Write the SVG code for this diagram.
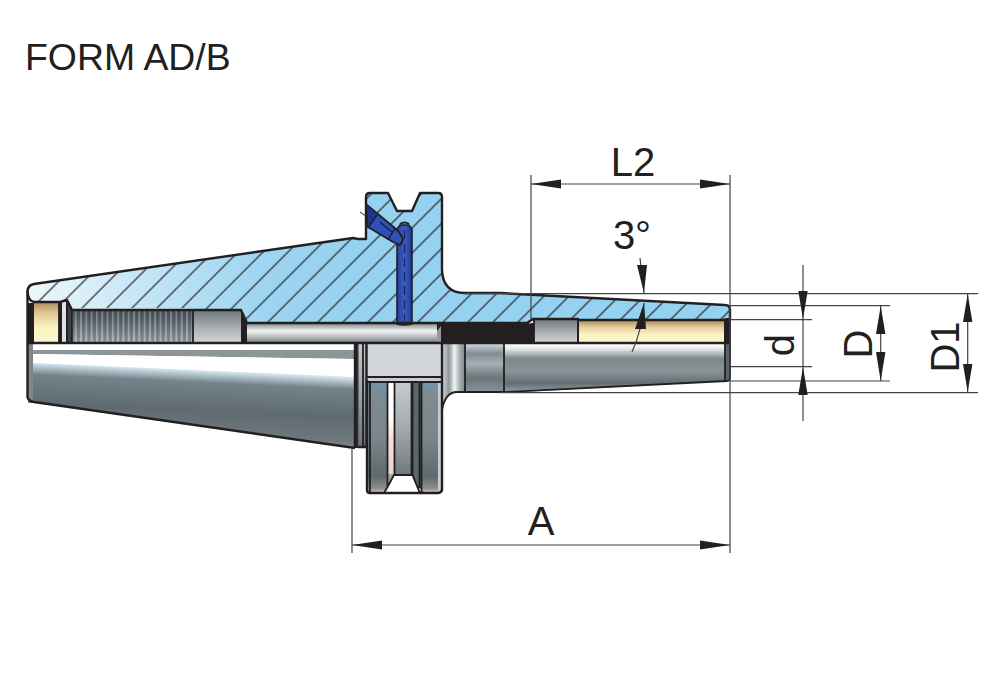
<svg xmlns="http://www.w3.org/2000/svg" width="1000" height="694" viewBox="0 0 1000 694">
<style>
.o{stroke:#231f20;stroke-width:2.4;fill:none;stroke-linejoin:round}
.t{stroke:#231f20;stroke-width:1.8;fill:none}
.d{stroke:#444;stroke-width:1.2;fill:none}
.a{fill:#231f20;stroke:none}
text{font-family:"Liberation Sans",Arial,sans-serif;fill:#231f20}
.b{font-size:40px}
</style>
<defs>
<linearGradient id="body" gradientUnits="userSpaceOnUse" x1="27" y1="0" x2="360" y2="0"><stop offset="0" stop-color="#eef8fc"/><stop offset=".35" stop-color="#c4e6f6"/><stop offset=".7" stop-color="#9ed5f1"/><stop offset="1" stop-color="#95d1f0"/></linearGradient>
<linearGradient id="brass" x1="0" y1="0" x2="0" y2="1"><stop offset="0" stop-color="#b2925f"/><stop offset=".25" stop-color="#e0c796"/><stop offset=".6" stop-color="#faf3c0"/><stop offset="1" stop-color="#fbf7d2"/></linearGradient>
<linearGradient id="gr" x1="0" y1="0" x2="0" y2="1"><stop offset="0" stop-color="#6d777b"/><stop offset=".5" stop-color="#a5abae"/><stop offset="1" stop-color="#d4d6d9"/></linearGradient>
<linearGradient id="bore" x1="0" y1="0" x2="0" y2="1"><stop offset="0" stop-color="#7b8488"/><stop offset=".4" stop-color="#f2f3f3"/><stop offset=".7" stop-color="#b6babc"/><stop offset="1" stop-color="#70797d"/></linearGradient>
<linearGradient id="nose" x1="0" y1="0" x2="0" y2="1"><stop offset="0" stop-color="#ffffff"/><stop offset=".1" stop-color="#e4e7e8"/><stop offset=".3" stop-color="#7b878c"/><stop offset=".55" stop-color="#8a9498"/><stop offset=".8" stop-color="#636e72"/><stop offset="1" stop-color="#9aa2a6"/></linearGradient>
<linearGradient id="collar" x1="0" y1="0" x2="0" y2="1"><stop offset="0" stop-color="#cfd8dc"/><stop offset=".2" stop-color="#7f8d93"/><stop offset=".4" stop-color="#a6b0b4"/><stop offset=".7" stop-color="#6a7579"/><stop offset="1" stop-color="#8b9498"/></linearGradient>
<linearGradient id="cone" gradientUnits="userSpaceOnUse" x1="190" y1="366" x2="186.300" y2="445"><stop offset="0" stop-color="#ffffff"/><stop offset=".07" stop-color="#c9dbe4"/><stop offset=".2" stop-color="#74838a"/><stop offset=".55" stop-color="#5f6b70"/><stop offset=".85" stop-color="#6d787d"/><stop offset="1" stop-color="#8d969a"/></linearGradient>
<linearGradient id="ringg" x1="0" y1="0" x2="0" y2="1"><stop offset="0" stop-color="#6f96ad"/><stop offset=".1" stop-color="#7e8b90"/><stop offset=".5" stop-color="#7a868b"/><stop offset=".85" stop-color="#5e696d"/><stop offset=".96" stop-color="#8d8f92"/><stop offset="1" stop-color="#e2cfcf"/></linearGradient>
<linearGradient id="mid" x1="0" y1="0" x2="0" y2="1"><stop offset="0" stop-color="#c9cccf"/><stop offset=".5" stop-color="#a3a9ac"/><stop offset="1" stop-color="#6f7a7e"/></linearGradient>
<linearGradient id="strip" x1="0" y1="0" x2="0" y2="1"><stop offset="0" stop-color="#c4cace"/><stop offset=".5" stop-color="#98a2a6"/><stop offset="1" stop-color="#6c777b"/></linearGradient>
<linearGradient id="gap" x1="0" y1="0" x2="0" y2="1"><stop offset="0" stop-color="#fff"/><stop offset=".4" stop-color="#fff"/><stop offset=".6" stop-color="#f6dede"/><stop offset="1" stop-color="#e8d4d4"/></linearGradient>
<linearGradient id="fil" x1="0" y1="0" x2="1" y2="0"><stop offset="0" stop-color="#d4d9db"/><stop offset=".3" stop-color="#8e989c"/><stop offset=".55" stop-color="#f4f5f5"/><stop offset=".75" stop-color="#aab2b6"/><stop offset="1" stop-color="#7c878c"/></linearGradient>
<linearGradient id="pin" x1="0" y1="0" x2="1" y2="0"><stop offset="0" stop-color="#24409c"/><stop offset=".5" stop-color="#3c5cc4"/><stop offset="1" stop-color="#1f3a90"/></linearGradient>
<pattern id="hatch" patternUnits="userSpaceOnUse" width="17.680" height="17.680" patternTransform="rotate(45) translate(9.600 0)"><line x1="1" y1="0" x2="1" y2="17.680" stroke="#231f20" stroke-width="1.200"/></pattern>
<pattern id="thr" patternUnits="userSpaceOnUse" width="5.300" height="40" x="73"><rect width="5.300" height="40" fill="#55626a"/><rect x="1.700" width="2" height="40" fill="#97a5ac"/></pattern>
<linearGradient id="thrf" x1="0" y1="0" x2="0" y2="1"><stop offset="0" stop-color="#000" stop-opacity=".25"/><stop offset="1" stop-color="#fff" stop-opacity=".3"/></linearGradient>
<path id="sec" d="M27.500,291 Q28,285 34,284 L353,238 L358,239 H366 V197 Q366,193 370,193 H388 L397,211 H412 L420,193 H438 Q442,193 442,197 V270 Q443,293 465,293 H500 L725,305 Q730,305 730,310 V320 H578 V319 H533 L527,323 H441 H247 L241,310 H72 L67,300 L60,302 H34 Q28,301 27.500,291Z"/>
</defs>
<g id="title"><text x="25" y="70" font-size="37.400">FORM AD/B</text></g>
<g id="holder">
<use href="#sec" fill="url(#body)"/>
<use href="#sec" fill="url(#hatch)"/>
<rect x="27.500" y="303" width="6.500" height="40" fill="#231f20"/>
<rect x="34" y="303" width="25" height="40" fill="url(#brass)"/>
<rect x="59" y="302" width="3" height="41" fill="#231f20"/>
<rect x="62" y="301" width="4" height="42" fill="#dfe3e5"/>
<path d="M66,300 H67 L72,308 V343 H66Z" fill="#39444a"/>
<rect x="73" y="308" width="120" height="3" fill="#d6e6ec"/>
<rect x="73" y="311" width="120" height="32" fill="url(#thr)"/>
<rect x="73" y="311" width="120" height="32" fill="url(#thrf)"/>
<rect x="193" y="310" width="49" height="33" fill="url(#gr)"/>
<path d="M241,310 L247,323 V343 H241Z" fill="#231f20"/>
<rect x="247" y="323" width="193" height="20" fill="url(#bore)"/>
<rect x="437" y="323" width="97" height="20" fill="#231f20"/>
<path d="M441,323 H531" stroke="#fff" stroke-width="1" stroke-dasharray="1.500 2.500" fill="none"/>
<path d="M437,331 L441,326 V343 H437Z" fill="#8f989c"/>
<rect x="534" y="319" width="43" height="24" fill="url(#gr)"/>
<rect x="577" y="319" width="2" height="24" fill="#231f20"/>
<rect x="579" y="321" width="145" height="22" fill="url(#brass)"/>
<rect x="724" y="318" width="6" height="25" fill="#231f20"/>
<path d="M724,320 L730,312" stroke="#9ad2f0" stroke-width="1"/>
<path d="M27.500,343 H355 V448 L34,402 Q28,401 27.500,397Z" fill="url(#cone)"/>
<path d="M33,344 H355 V352 L33,350Z" fill="#ffffff"/>
<path d="M33,350 L355,350 V359 L33,354Z" fill="#8e9598"/>
<path d="M33,354 L355,359 V377 L33,363Z" fill="#ffffff"/>
<rect x="28" y="344" width="5" height="59" fill="#7b878c"/>
<rect x="355" y="344" width="3" height="104" fill="#231f20"/>
<rect x="358" y="344" width="5" height="103" fill="url(#strip)"/>
<rect x="363" y="344" width="3" height="103" fill="url(#strip)"/>
<rect x="367" y="344" width="75" height="33" fill="#d3d6da"/>
<rect x="368" y="377" width="74" height="6" fill="#c8ccce"/>
<rect x="388" y="382" width="6" height="92" fill="url(#gap)"/>
<path d="M388,474 H394 L388,487Z" fill="#a0a6a8"/>
<path d="M368,383 H388 V487 L384,493 H370 Q368,493 368,490Z" fill="url(#ringg)"/>
<rect x="395" y="382" width="16" height="93" fill="url(#mid)"/>
<path d="M412,383 H419 V492 L412,475Z" fill="#59666a"/>
<path d="M419,383 H442 V490 Q441,493 438,493 H424 L419,488Z" fill="url(#ringg)"/>
<rect x="438" y="383" width="3.500" height="108" fill="#c5cccf"/>
<path d="M442,344 H465 V392 H456 Q445,393 442,410Z" fill="url(#fil)"/>
<rect x="465" y="344" width="39" height="48.500" fill="url(#collar)"/>
<path d="M504,344 H727 V381 L504,393Z" fill="url(#nose)"/>
<rect x="725" y="344" width="5" height="37" fill="#59646a"/>
<g id="pin-1"><path d="M397,324 V229 L400,225 H409 L412,229 V324 Q404,326 397,324Z" fill="url(#pin)" stroke="#231f20" stroke-width="1.600"/>
<path d="M400,224 Q404.500,221 409,224" stroke="#231f20" stroke-width="2" fill="none"/>
<path d="M404.500,230V322" stroke="#16285f" stroke-width="1.300" stroke-dasharray="9 5"/></g>
<g id="pin-2"><path d="M367,205 L396,229 Q402,235 403,240 L400,245 L393,242 L368,227Z" fill="#2f50b8" stroke="#231f20" stroke-width="1.800" stroke-linejoin="round"/>
<path d="M367,205 L377,215 L368,228 Z" fill="#1e3486"/>
<path d="M377,215 L368,228 M395,228 L388,240" stroke="#231f20" stroke-width="1.400"/>
<path d="M380,222 L393,233" stroke="#14224f" stroke-width="1.400"/>
<path d="M360,212 L367,217" stroke="#231f20" stroke-width="1"/></g>
<use href="#sec" class="o"/>
<path class="o" d="M27.500,343 H730 M27.500,291 V397 Q28,401 34,402 L355,448 M355,344 V448 M366.500,344 V447 H358 M442,344 V490 Q441,493 438,493 H370 Q367,493 367,490 V380"/>
<path class="t" d="M59,302 V343 M67,302 V343 M193,310 V343 M72,310 V343 M534,319 V343 M363,344 V447 M465,344 V392 M504,344 V393 M442,410 Q445,393 456,392 H504 L727,381 Q730,381 730,377 V310 M367,377 H442 M367,382 H442 M370,383 V493 M387.500,382 V487 L384,493 M387.500,487 L394.500,474 M394.500,382 V475 H411.500 V382 M412.500,382 V475 L419.500,492 L424,493 M419.500,382 V488 M421.500,383 V493 M725,344 V381"/>
<path class="d" d="M358,344 V447"/>
</g>
<g id="connectors">
<path class="d" d="M352,449 V553 M730,175 V553 M531,175 V319 M352,545 H730 M531,184 H730"/>
<path class="d" d="M463,293.700 H978 M730,305.700 H890 M730,319.700 H812 M730,366.700 H812 M730,381 H890 M500,392.700 H978"/>
<path class="d" d="M803,265 V421 M880.700,306 V381 M967.700,294 V392"/>
<path class="d" d="M640,258 L644,293 M644,303 Q642,330 632,352"/>
<g class="a">
<path d="M352,545 L382,540.500 V549.500Z M730,545 L700,540.500 V549.500Z M531,184 L561,179.500 V188.500Z M730,184 L700,179.500 V188.500Z"/>
<path d="M803,319 L798.300,291 H807.700Z M803,367 L798.300,395 H807.700Z"/>
<path d="M880.700,306 L876,334 H885.400Z M880.700,381 L876,352 H885.400Z"/>
<path d="M967.700,294 L963,322 H972.400Z M967.700,392 L963,364 H972.400Z"/>
<path d="M644,293 L637,265 H647Z M644,303 L635,329 H646Z"/>
</g>
</g>
<g id="labels">
<text class="b" x="541" y="535" text-anchor="middle">A</text>
<text class="b" x="633" y="176" text-anchor="middle">L2</text>
<text class="b" x="632" y="249" text-anchor="middle">3°</text>
<text class="b" transform="translate(794,345) rotate(-90)" text-anchor="middle">d</text>
<text class="b" transform="translate(872,344) rotate(-90)" text-anchor="middle">D</text>
<text class="b" transform="translate(959,347) rotate(-90)" text-anchor="middle">D1</text>
</g>
</svg>
